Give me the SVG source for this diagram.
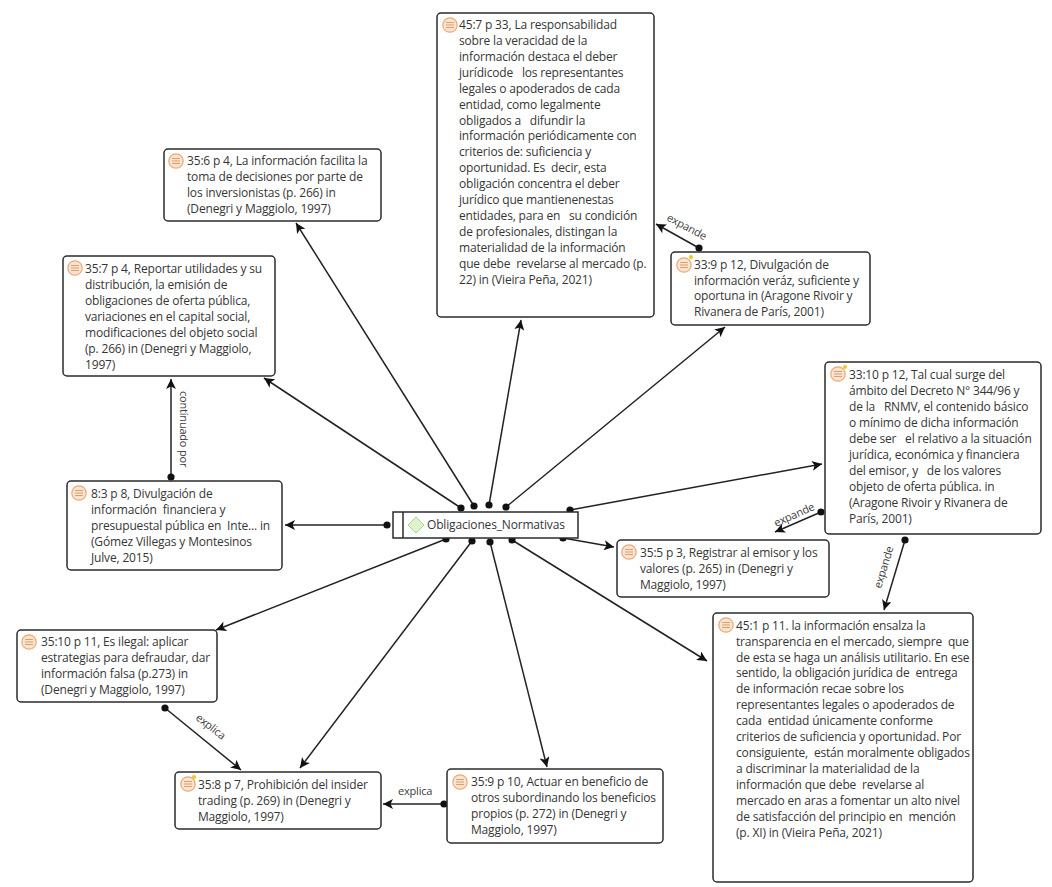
<svg xmlns="http://www.w3.org/2000/svg" width="1052" height="887" viewBox="0 0 1052 887">
<style>
.b{fill:#fff;stroke:#2b2b2b;stroke-width:1.5}
.t{font-family:"Open Sans","Noto Sans","Liberation Sans",sans-serif;font-size:12px;letter-spacing:-0.17px;font-weight:500;fill:#363636;white-space:pre}
.l{font-family:"Open Sans","Noto Sans","Liberation Sans",sans-serif;font-size:11px;letter-spacing:-0.2px;fill:#404040}
.c line{stroke:#222;stroke-width:1.5;marker-start:url(#d);marker-end:url(#a)}
</style>
<defs>
<marker id="a" markerUnits="userSpaceOnUse" markerWidth="12" markerHeight="10" refX="10" refY="5" orient="auto"><path d="M0 0L10 5L0 10L2.500 5Z" fill="#111"/></marker>
<marker id="d" markerUnits="userSpaceOnUse" markerWidth="8" markerHeight="8" refX="4" refY="4"><circle cx="4" cy="4" r="3.600" fill="#111"/></marker>
<g id="i"><circle cx="8" cy="8" r="7.200" fill="#fbe3cf" stroke="#eaa877" stroke-width="1.200"/><path d="M4 5.500h8M4 8h8M4 10.500h8" stroke="#d9a070" stroke-width="1.100"/></g>
</defs>
<g class="c" id="connectors">
<line x1="461" y1="508" x2="264" y2="378"/>
<line x1="474" y1="506" x2="296" y2="223"/>
<line x1="489" y1="505" x2="521" y2="320"/>
<line x1="506" y1="507" x2="725" y2="327"/>
<line x1="570" y1="510" x2="822" y2="464"/>
<line x1="563" y1="538" x2="614" y2="547"/>
<line x1="512" y1="540" x2="707" y2="661"/>
<line x1="490" y1="542" x2="547" y2="767"/>
<line x1="472" y1="541" x2="300" y2="768"/>
<line x1="446" y1="539" x2="216" y2="630"/>
<line x1="387" y1="525" x2="285" y2="525"/>
<line x1="699" y1="248" x2="656" y2="224"/>
<line x1="171" y1="477" x2="171" y2="379"/>
<line x1="821" y1="512" x2="775" y2="532"/>
<line x1="905" y1="540" x2="884" y2="610"/>
<line x1="165" y1="708" x2="241" y2="770"/>
<line x1="444" y1="804" x2="383" y2="804"/>
</g>
<g id="labels">
<text class="l" transform="translate(666 220) rotate(28)">expande</text>
<text class="l" transform="translate(180 391) rotate(90)">continuado por</text>
<text class="l" transform="translate(776 527) rotate(-24)">expande</text>
<text class="l" transform="translate(881 589) rotate(-73)">expande</text>
<text class="l" transform="translate(195 719) rotate(38)">explica</text>
<text class="l" x="398" y="795">explica</text>
</g>
<g id="n4507"><rect class="b" x="437" y="13" width="217" height="304" rx="4"/><use href="#i" x="442" y="17"/>
<text class="t"><tspan x="459" y="29">45:7 p 33, La responsabilidad</tspan><tspan x="459" y="45">sobre la veracidad de la</tspan><tspan x="459" y="61">información destaca el deber</tspan><tspan x="459" y="77">jurídicode   los representantes</tspan><tspan x="459" y="93">legales o apoderados de cada</tspan><tspan x="459" y="109">entidad, como legalmente</tspan><tspan x="459" y="125">obligados a   difundir la</tspan><tspan x="459" y="140">información periódicamente con</tspan><tspan x="459" y="156">criterios de: suficiencia y</tspan><tspan x="459" y="172">oportunidad. Es  decir, esta</tspan><tspan x="459" y="188">obligación concentra el deber</tspan><tspan x="459" y="204">jurídico que mantienenestas</tspan><tspan x="459" y="220">entidades, para en   su condición</tspan><tspan x="459" y="236">de profesionales, distingan la</tspan><tspan x="459" y="252">materialidad de la información</tspan><tspan x="459" y="268">que debe  revelarse al mercado (p.</tspan><tspan x="459" y="284">22) in (Vieira Peña, 2021)</tspan></text></g>
<g id="n356"><rect class="b" x="164" y="149" width="217" height="72" rx="4"/><use href="#i" x="168" y="153"/>
<text class="t"><tspan x="187" y="165">35:6 p 4, La información facilita la</tspan><tspan x="187" y="181">toma de decisiones por parte de</tspan><tspan x="187" y="197">los inversionistas (p. 266) in</tspan><tspan x="187" y="213">(Denegri y Maggiolo, 1997)</tspan></text></g>
<g id="n357"><rect class="b" x="63" y="256" width="212" height="120" rx="4"/><use href="#i" x="67" y="260"/>
<text class="t"><tspan x="85" y="273">35:7 p 4, Reportar utilidades y su</tspan><tspan x="85" y="289">distribución, la emisión de</tspan><tspan x="85" y="305">obligaciones de oferta pública,</tspan><tspan x="85" y="321">variaciones en el capital social,</tspan><tspan x="85" y="337">modificaciones del objeto social</tspan><tspan x="85" y="353">(p. 266) in (Denegri y Maggiolo,</tspan><tspan x="85" y="369">1997)</tspan></text></g>
<g id="n339"><rect class="b" x="671" y="252" width="199" height="73" rx="4"/><use href="#i" x="676" y="257"/><circle cx="691" cy="257" r="2" fill="#f5c518"/>
<text class="t"><tspan x="694" y="269">33:9 p 12, Divulgación de</tspan><tspan x="694" y="285">información veráz, suficiente y</tspan><tspan x="694" y="300">oportuna in (Aragone Rivoir y</tspan><tspan x="694" y="316">Rivanera de París, 2001)</tspan></text></g>
<g id="n3310"><rect class="b" x="825" y="362" width="216" height="172" rx="4"/><use href="#i" x="830" y="366"/><circle cx="845" cy="367" r="2" fill="#f5c518"/>
<text class="t"><tspan x="849" y="379">33:10 p 12, Tal cual surge del</tspan><tspan x="849" y="395">ámbito del Decreto N° 344/96 y</tspan><tspan x="849" y="411">de la   RNMV, el contenido básico</tspan><tspan x="849" y="427">o mínimo de dicha información</tspan><tspan x="849" y="443">debe ser   el relativo a la situación</tspan><tspan x="849" y="459">jurídica, económica y financiera</tspan><tspan x="849" y="475">del emisor, y   de los valores</tspan><tspan x="849" y="491">objeto de oferta pública. in</tspan><tspan x="849" y="507">(Aragone Rivoir y Rivanera de</tspan><tspan x="849" y="523">París, 2001)</tspan></text></g>
<g id="n83"><rect class="b" x="67" y="481" width="215" height="89" rx="4"/><use href="#i" x="71" y="485"/>
<text class="t"><tspan x="91" y="498">8:3 p 8, Divulgación de</tspan><tspan x="91" y="514">información  financiera y</tspan><tspan x="91" y="530">presupuestal pública en  Inte... in</tspan><tspan x="91" y="546">(Gómez Villegas y Montesinos</tspan><tspan x="91" y="562">Julve, 2015)</tspan></text></g>
<g id="n355"><rect class="b" x="617" y="540" width="212" height="57" rx="4"/><use href="#i" x="621" y="544"/>
<text class="t"><tspan x="640" y="557">35:5 p 3, Registrar al emisor y los</tspan><tspan x="640" y="573">valores (p. 265) in (Denegri y</tspan><tspan x="640" y="589">Maggiolo, 1997)</tspan></text></g>
<g id="n451"><rect class="b" x="713" y="613" width="260" height="269" rx="4"/><use href="#i" x="718" y="617"/>
<text class="t"><tspan x="736" y="630">45:1 p 11. la información ensalza la</tspan><tspan x="736" y="646">transparencia en el mercado, siempre  que</tspan><tspan x="736" y="662">de esta se haga un análisis utilitario. En ese</tspan><tspan x="736" y="677">sentido, la obligación jurídica de  entrega</tspan><tspan x="736" y="693">de información recae sobre los</tspan><tspan x="736" y="709">representantes legales o apoderados de</tspan><tspan x="736" y="725">cada  entidad únicamente conforme</tspan><tspan x="736" y="741">criterios de suficiencia y oportunidad. Por</tspan><tspan x="736" y="757">consiguiente,  están moralmente obligados</tspan><tspan x="736" y="773">a discriminar la materialidad de la</tspan><tspan x="736" y="789">información que debe  revelarse al</tspan><tspan x="736" y="805">mercado en aras a fomentar un alto nivel</tspan><tspan x="736" y="821">de satisfacción del principio en  mención</tspan><tspan x="736" y="837">(p. XI) in (Vieira Peña, 2021)</tspan></text></g>
<g id="n3510"><rect class="b" x="17" y="630" width="200" height="72" rx="4"/><use href="#i" x="21" y="634"/>
<text class="t"><tspan x="41" y="646">35:10 p 11, Es ilegal: aplicar</tspan><tspan x="41" y="662">estrategias para defraudar, dar</tspan><tspan x="41" y="678">información falsa (p.273) in</tspan><tspan x="41" y="694">(Denegri y Maggiolo, 1997)</tspan></text></g>
<g id="n358"><rect class="b" x="175" y="772" width="206" height="57" rx="4"/><use href="#i" x="180" y="776"/><circle cx="194" cy="777" r="2" fill="#f5c518"/>
<text class="t"><tspan x="198" y="789">35:8 p 7, Prohibición del insider</tspan><tspan x="198" y="805">trading (p. 269) in (Denegri y</tspan><tspan x="198" y="821">Maggiolo, 1997)</tspan></text></g>
<g id="n359"><rect class="b" x="447" y="769" width="216" height="74" rx="4"/><use href="#i" x="452" y="774"/>
<text class="t"><tspan x="471" y="786">35:9 p 10, Actuar en beneficio de</tspan><tspan x="471" y="802">otros subordinando los beneficios</tspan><tspan x="471" y="818">propios (p. 272) in (Denegri y</tspan><tspan x="471" y="834">Maggiolo, 1997)</tspan></text></g>
<g id="center"><rect x="393" y="512" width="185" height="26" fill="#fff" stroke="#2b2b2b" stroke-width="1.500"/><line x1="403" y1="512" x2="403" y2="538" stroke="#2b2b2b" stroke-width="1.500"/><path d="M416 517L424 525L416 533L408 525Z" fill="#dff2d0" stroke="#a9d48c"/><text x="427" y="529" class="t">Obligaciones_Normativas</text></g>
</svg>
